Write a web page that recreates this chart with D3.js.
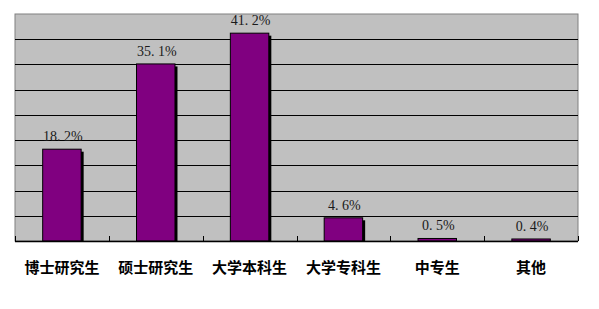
<!DOCTYPE html>
<html>
<head>
<meta charset="utf-8">
<script src="https://cdn.jsdelivr.net/npm/d3@7"></script>
<style>
  body { margin: 0; background: #fff; }
</style>
</head>
<body>
<svg id="chart" width="599" height="309"></svg>
<script>
const categories = ["博士研究生", "硕士研究生", "大学本科生", "大学专科生", "中专生", "其他"];
const values = [18.2, 35.1, 41.2, 4.6, 0.5, 0.4];
const yTicks = [0, 5, 10, 15, 20, 25, 30, 35, 40, 45];

const svg = d3.select("#chart");
const margin = { top: 14, right: 21, bottom: 68, left: 15 };
const width = 599 - margin.left - margin.right;
const height = 309 - margin.top - margin.bottom;

const g = svg.append("g").attr("transform", `translate(${margin.left},${margin.top})`);

const x = d3.scaleBand().domain(categories).range([0, width]).paddingInner(0).paddingOuter(0);
const y = d3.scaleLinear().domain([0, 45]).range([height, 0]);

// plot background
g.append("rect")
  .attr("x", 0).attr("y", 0)
  .attr("width", width).attr("height", height)
  .attr("fill", "#c0c0c0")
  .attr("stroke", "#808080")
  .attr("stroke-width", 1);

// grid lines
g.selectAll("line.grid")
  .data(yTicks.slice(1, -1))
  .enter().append("line")
  .attr("class", "grid")
  .attr("x1", 0).attr("x2", width)
  .attr("y1", d => Math.round(y(d)) + 0.5)
  .attr("y2", d => Math.round(y(d)) + 0.5)
  .attr("stroke", "#000")
  .attr("stroke-width", 1);

const bw = x.bandwidth() * 0.41;

// bar shadows
g.selectAll("rect.shadow")
  .data(values)
  .enter().append("rect")
  .attr("class", "shadow")
  .attr("x", (d, i) => x(categories[i]) + (x.bandwidth() - bw) / 2 + 2.5)
  .attr("y", d => y(d) + 2.5)
  .attr("width", bw)
  .attr("height", d => Math.max(0, height - y(d) - 2.5))
  .attr("fill", "#000");

// bars
g.selectAll("rect.bar")
  .data(values)
  .enter().append("rect")
  .attr("class", "bar")
  .attr("x", (d, i) => x(categories[i]) + (x.bandwidth() - bw) / 2)
  .attr("y", d => y(d))
  .attr("width", bw)
  .attr("height", d => height - y(d))
  .attr("fill", "#800080")
  .attr("stroke", "#000")
  .attr("stroke-width", 1);

// x axis with inward ticks at band edges
const axisG = g.append("g").attr("transform", `translate(0,${height})`);
axisG.append("line")
  .attr("x1", 0).attr("x2", width)
  .attr("y1", 0.5).attr("y2", 0.5)
  .attr("stroke", "#000").attr("stroke-width", 1.5);
axisG.selectAll("line.tick")
  .data(d3.range(categories.length + 1))
  .enter().append("line")
  .attr("class", "tick")
  .attr("x1", i => Math.round(i * x.step()) + 0.5)
  .attr("x2", i => Math.round(i * x.step()) + 0.5)
  .attr("y1", 0).attr("y2", -5)
  .attr("stroke", "#000");

// value labels
g.selectAll("text.value")
  .data(values)
  .enter().append("text")
  .attr("class", "value")
  .attr("x", (d, i) => x(categories[i]) + x.bandwidth() / 2 + 1)
  .attr("y", d => y(d) - 8)
  .attr("text-anchor", "middle")
  .style("font-family", "'Liberation Serif', 'DejaVu Serif', serif")
  .style("font-size", "14px")
  .style("fill", "#1a1a1a")
  .text(d => d.toFixed(1).replace(".", ". ") + "%");

// category labels
g.selectAll("text.cat")
  .data(categories)
  .enter().append("text")
  .attr("class", "cat")
  .attr("x", d => x(d) + x.bandwidth() / 2)
  .attr("y", height + 32)
  .attr("text-anchor", "middle")
  .style("font-family", "'Noto Sans CJK SC', sans-serif")
  .style("font-weight", "bold")
  .style("font-size", "15px")
  .style("fill", "#000")
  .text(d => d);
</script>
</body>
</html>
